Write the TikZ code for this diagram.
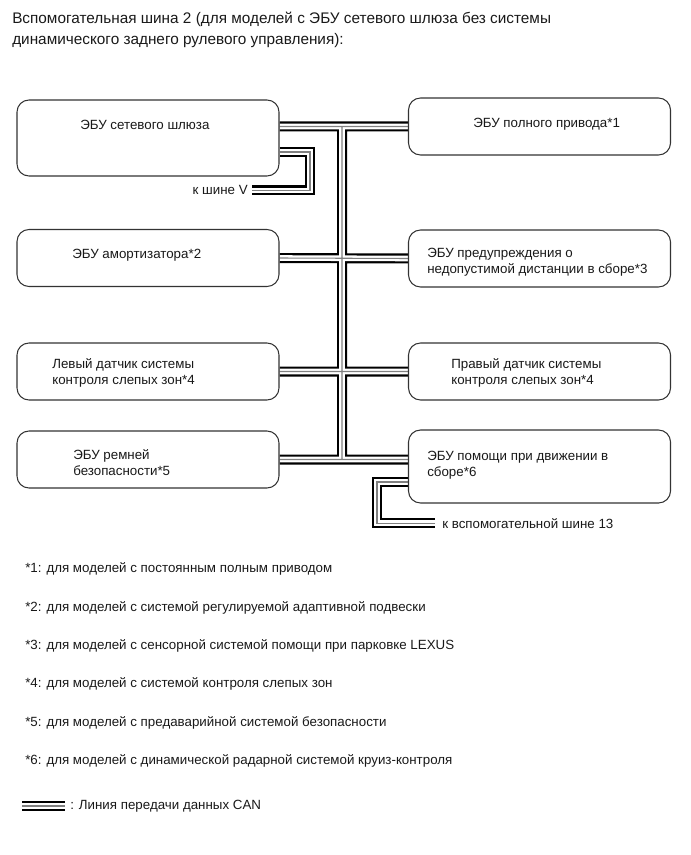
\documentclass[tikz,border=0pt]{standalone}
\usepackage{fontspec}
\setmainfont{Liberation Sans}
\usepackage{tikz}
\usetikzlibrary{positioning, backgrounds, calc}
\tikzset{
  ecu/.style={rectangle, rounded corners=9pt, draw=black!80, line width=0.8pt,
              fill=white, inner sep=0pt, minimum width=196.5pt,
              minimum height=42.75pt},
  can/.style={draw=black, line width=7.5pt,
              postaction={draw=white, line width=4.2pt},
              postaction={draw=black!50, line width=0.8pt}},
  txt/.style={anchor=base west, inner sep=0pt, align=left,
              font=\fontsize{10}{12}\selectfont, text=black!90},
  hd/.style={anchor=base west, inner sep=0pt, align=left,
             font=\fontsize{11.5}{15.75}\selectfont, text=black!90},
}
\begin{document}
\begin{tikzpicture}[x=0.75pt, y=-0.75pt]
  \useasboundingbox (0,0) rectangle (690,855);

  \node[hd] (ttl) at (12,45)
    {Вспомогательная шина 2 (для моделей с ЭБУ сетевого шлюза без системы\\
     динамического заднего рулевого управления):};

  % blocks
  \node[ecu, minimum height=57pt]    (gw)   at (148,138)   {};
  \node[ecu]                         (fwd)  at (539.5,126.5) {};
  \node[ecu]                         (amo)  at (148,258)   {};
  \node[ecu]                         (dst)  at (539.5,258.5) {};
  \node[ecu]                         (lbs)  at (148,371.5) {};
  \node[ecu]                         (rbs)  at (539.5,371.5) {};
  \node[ecu]                         (seat) at (148,459.5) {};
  \node[ecu, minimum height=54.75pt] (drv)  at (539.5,466.5) {};

  \node[txt] (gwt)   at (80,130)  {ЭБУ сетевого шлюза};
  \node[txt] (fwdt)  at (473,128) {ЭБУ полного привода*1};
  \node[txt] (amot)  at (72,258)  {ЭБУ амортизатора*2};
  \node[txt] (dstt)  at (427,273) {ЭБУ предупреждения о\\недопустимой дистанции в сборе*3};
  \node[txt] (lbst)  at (52,384)  {Левый датчик системы\\контроля слепых зон*4};
  \node[txt] (rbst)  at (451,384) {Правый датчик системы\\контроля слепых зон*4};
  \node[txt] (seatt) at (73,475)  {ЭБУ ремней\\безопасности*5};
  \node[txt] (drvt)  at (427,476) {ЭБУ помощи при движении в\\сборе*6};

  \node[txt, anchor=base east, inner xsep=3pt] (kv) at (252,195) {к шине V};
  \node[txt, inner xsep=5.25pt] (ab) at (435,528) {к вспомогательной шине 13};

  % bus lines
  \coordinate (trk) at (342,0);
  \coordinate (vbt) at (310,152);
  \coordinate (abt) at (377,482);
  \begin{scope}[on background layer]
    \path[can] (gw.east |- fwd.west) -- (fwd.west)
               (trk |- fwd.west) -- (trk |- seat.east)
               (amo.east) -- (dst.west)
               (lbs.east) -- (rbs.west)
               (seat.east) -- (seat.east -| drv.west);
    \path[can] (gw.east |- vbt) -- (vbt) |- (kv.east);
    \path[can] (drv.west |- abt) -- (abt) |- (ab.west);
  \end{scope}

  % notes
  \node[txt] (fn1) at (25,572) {*1: для моделей с постоянным полным приводом};
  \node[txt] (fn2) at (25,611) {*2: для моделей с системой регулируемой адаптивной подвески};
  \node[txt] (fn3) at (25,649) {*3: для моделей с сенсорной системой помощи при парковке LEXUS};
  \node[txt] (fn4) at (25,687) {*4: для моделей с системой контроля слепых зон};
  \node[txt] (fn5) at (25,726) {*5: для моделей с предаварийной системой безопасности};
  \node[txt] (fn6) at (25,764) {*6: для моделей с динамической радарной системой круиз-контроля};

  \coordinate (lgs) at (22,806);
  \node[txt, inner xsep=3.75pt] (lgt) at (65,809) {: Линия передачи данных CAN};
  \path[can] (lgs) -- (lgs -| lgt.west);
\end{tikzpicture}
\end{document}
